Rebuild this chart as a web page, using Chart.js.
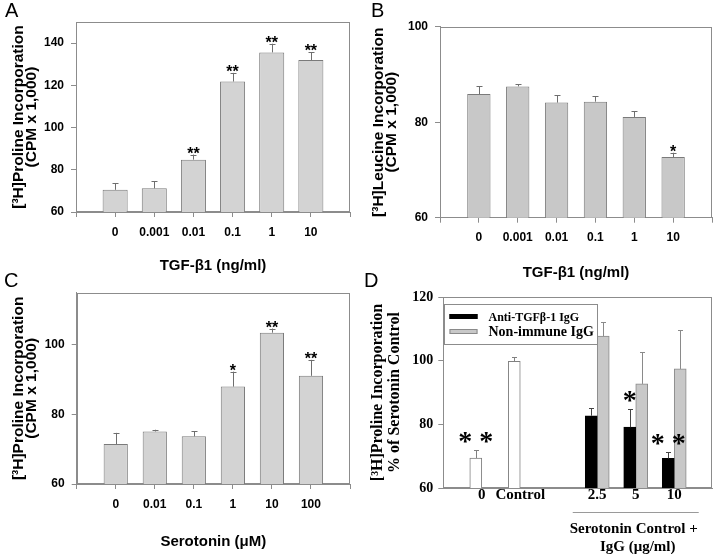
<!DOCTYPE html>
<html>
<head>
<meta charset="utf-8">
<script src="https://cdn.jsdelivr.net/npm/chart.js@4.4.0/dist/chart.umd.min.js"></script>
<style>
  body { margin: 0; background: #fff; }
  #wrap { position: relative; width: 720px; height: 554px; overflow: hidden; background: #fff; }
  #wrap canvas { position: absolute; }
  .tag { position: absolute; font: 20px "Liberation Sans", Arial, sans-serif; line-height: 20px; color: #000; }
</style>
</head>
<body>
<div id="wrap">
  <canvas id="chartA" width="360" height="277" style="left:0;top:0"></canvas>
  <canvas id="chartB" width="360" height="285" style="left:360px;top:0"></canvas>
  <canvas id="chartC" width="360" height="277" style="left:0;top:277px"></canvas>
  <canvas id="chartD" width="360" height="277" style="left:360px;top:277px"></canvas>
  <div class="tag" style="left:5px;top:0">A</div>
  <div class="tag" style="left:371px;top:0">B</div>
  <div class="tag" style="left:4px;top:270px">C</div>
  <div class="tag" style="left:364px;top:270px">D</div>
</div>
<script>
// A: proline incorporation vs TGF-b1
const tgfLabels = ["0", "0.001", "0.01", "0.1", "1", "10"];
const prolineTgf = [70.5, 71.2, 84.8, 121.8, 135.6, 132.0];
const prolineTgfErr = [3.2, 3.3, 2.4, 4.1, 4.1, 3.6];
const prolineTgfSig = ["", "", "**", "**", "**", "**"];

// B: leucine incorporation vs TGF-b1
const leucineTgf = [85.9, 87.5, 84.1, 84.3, 81.1, 72.7];
const leucineTgfErr = [1.6, 0.5, 1.5, 1.1, 1.2, 0.9];
const leucineTgfSig = ["", "", "", "", "", "*"];

// C: proline incorporation vs serotonin
const seroLabels = ["0", "0.01", "0.1", "1", "10", "100"];
const prolineSero = [71.5, 75.1, 73.7, 88.0, 103.5, 91.1];
const prolineSeroErr = [3.2, 0.5, 1.4, 4.3, 1.2, 4.6];
const prolineSeroSig = ["", "", "", "*", "**", "**"];

// D: % of serotonin control (blank slots at the ends and between the groups)
const igTicks = ["", "0", "Control", "", "2.5", "5", "10", ""];
const seroOnly = [null, 69.4, 99.8, null, null, null, null, null];
const seroOnlyErr = [null, 2.5, 1.3, null, null, null, null, null];
const seroOnlySig = ["", "* *", "", "", "", "", "", ""];
const antiTgf = [null, null, null, null, 82.7, 79.1, 69.3, null];
const antiTgfErr = [null, null, null, null, 2.3, 5.6, 2.0, null];
const antiTgfSig = ["", "", "", "", "", "*", "* *", ""];
const nonImmune = [null, null, null, null, 107.7, 92.7, 97.4, null];
const nonImmuneErr = [null, null, null, null, 4.4, 10.0, 12.1, null];
const groupTitle = ["Serotonin Control +", "IgG (\u03bcg/ml)"];

const FRAME = "#8c8c8c";
const sans = "'Liberation Sans', Arial, sans-serif";
const serif = "'Liberation Serif', 'Times New Roman', serif";

function padded(values) { return [null, ...values, null]; }

// box round the plot area
const frame = {
  id: "frame",
  beforeDatasetsDraw(chart) {
    const a = chart.chartArea;
    const ctx = chart.ctx;
    ctx.save();
    ctx.strokeStyle = FRAME;
    ctx.lineWidth = 1;
    ctx.strokeRect(Math.round(a.left) + 0.5, Math.round(a.top) + 0.5,
      Math.round(a.right - a.left) - 1, Math.round(a.bottom - a.top) - 1);
    ctx.restore();
  }
};

// upper error bars and significance stars
const markers = {
  id: "markers",
  afterDatasetsDraw(chart, args, opts) {
    const ctx = chart.ctx;
    const y = chart.scales.y;
    chart.data.datasets.forEach((ds, di) => {
      if (!ds.errors) return;
      chart.getDatasetMeta(di).data.forEach((bar, i) => {
        const v = ds.data[i];
        if (v == null) return;
        const top = y.getPixelForValue(v + ds.errors[i]);
        const x = Math.round(bar.x) + 0.5;
        ctx.save();
        ctx.strokeStyle = ds.errorColor || opts.color;
        ctx.lineWidth = 1;
        ctx.beginPath();
        ctx.moveTo(x, bar.y);
        ctx.lineTo(x, top);
        ctx.moveTo(x - opts.cap, Math.round(top) + 0.5);
        ctx.lineTo(x + opts.cap, Math.round(top) + 0.5);
        ctx.stroke();
        const s = ds.stars && ds.stars[i];
        if (s) {
          ctx.fillStyle = "#000";
          ctx.font = opts.font;
          ctx.textAlign = "center";
          ctx.textBaseline = "alphabetic";
          ctx.fillText(s, bar.x, top + opts.shift);
        }
        ctx.restore();
      });
    });
  }
};

// keep only the labelled steps (the axis runs past the last one)
const keepSteps = (s) => { s.ticks = s.ticks.filter((t) => t.value % 20 === 0); };

function dosePanel(id, p) {
  const font = (size) => ({ family: sans, size: size, weight: "bold" });
  new Chart(document.getElementById(id), {
    type: "bar",
    data: {
      labels: ["", ...p.labels, ""],
      datasets: [{
        data: padded(p.values),
        errors: padded(p.errors),
        stars: padded(p.stars),
        backgroundColor: p.fill,
        borderColor: "#7a7a7a",
        borderWidth: 1,
        categoryPercentage: 1,
        barPercentage: p.barPct
      }]
    },
    options: {
      responsive: false,
      animation: false,
      devicePixelRatio: 1,
      layout: { padding: { top: p.top, right: p.right, left: 0, bottom: 0 } },
      plugins: {
        legend: { display: false },
        tooltip: { enabled: false },
        markers: { color: "#6e6e6e", cap: 3, font: "bold 16px " + sans, shift: 4 }
      },
      scales: {
        x: {
          offset: false,
          grid: { offset: false, drawOnChartArea: false, tickLength: 5, color: FRAME },
          border: { color: FRAME },
          ticks: { autoSkip: false, maxRotation: 0, minRotation: 0, padding: 8, color: "#000", font: font(12) },
          title: { display: true, text: p.xTitle, color: "#000", font: font(15), padding: { top: 0, bottom: p.xTitlePad } },
          afterFit: (s) => { s.height = p.xHeight; }
        },
        y: {
          min: 60,
          max: p.max,
          bounds: "data",
          afterBuildTicks: keepSteps,
          grid: { drawOnChartArea: false, tickLength: 5, color: FRAME },
          border: { color: FRAME },
          ticks: { stepSize: 20, padding: 7, color: "#000", font: font(12) },
          title: {
            display: true,
            text: p.yTitle,
            color: "#000",
            font: { family: sans, size: 15.5, weight: "bold", lineHeight: 0.8 },
            padding: { top: 12.8, bottom: 0 }
          },
          afterFit: (s) => { s.width = p.yWidth; }
        }
      }
    },
    plugins: [frame, markers]
  });
}

dosePanel("chartA", {
  labels: tgfLabels, values: prolineTgf, errors: prolineTgfErr, stars: prolineTgfSig,
  fill: "#d3d3d3", barPct: 0.64, max: 150,
  top: 22, right: 10, xHeight: 65, yWidth: 76, xTitlePad: 2,
  xTitle: "TGF-\u03b21 (ng/ml)",
  yTitle: ["[\u00b3H]Proline Incorporation", "(CPM x 1,000)"]
});

dosePanel("chartB", {
  labels: tgfLabels, values: leucineTgf, errors: leucineTgfErr, stars: leucineTgfSig,
  fill: "#c8c8c8", barPct: 0.6, max: 100,
  top: 26.7, right: 7.3, xHeight: 67.3, yWidth: 80, xTitlePad: 3,
  xTitle: "TGF-\u03b21 (ng/ml)",
  yTitle: ["[\u00b3H]Leucine Incorporation", "(CPM x 1,000)"]
});

dosePanel("chartC", {
  labels: seroLabels, values: prolineSero, errors: prolineSeroErr, stars: prolineSeroSig,
  fill: "#d3d3d3", barPct: 0.62, max: 115,
  top: 15.7, right: 10, xHeight: 70, yWidth: 76.7, xTitlePad: 3,
  xTitle: "Serotonin (\u03bcM)",
  yTitle: ["[\u00b3H]Proline Incorporation", "(CPM x 1,000)"]
});

// legend box inside the plot and the label under the IgG doses
const igExtras = {
  id: "igExtras",
  afterDraw(chart) {
    const ctx = chart.ctx;
    const a = chart.chartArea;
    const x = chart.scales.x;
    ctx.save();
    // legend
    const lx = Math.round(a.left) + 1.5, ly = Math.round(a.top) + 7.5;
    ctx.fillStyle = "#fff";
    ctx.fillRect(lx, ly, 153, 40);
    ctx.strokeStyle = FRAME;
    ctx.strokeRect(lx, ly, 153, 40);
    const rows = [
      { ds: chart.data.datasets[1], dy: 12, size: 12 },
      { ds: chart.data.datasets[2], dy: 27, size: 14 }
    ];
    rows.forEach((r) => {
      ctx.fillStyle = r.ds.backgroundColor;
      ctx.fillRect(lx + 5, ly + r.dy - 2.5, 28, 5);
      ctx.strokeStyle = r.ds.borderColor;
      ctx.strokeRect(lx + 5.5, ly + r.dy - 2, 27, 4);
      ctx.fillStyle = "#000";
      ctx.font = "bold " + r.size + "px " + serif;
      ctx.textAlign = "left";
      ctx.textBaseline = "middle";
      ctx.fillText(r.ds.label, lx + 44, ly + r.dy + 1);
    });
    // group label under 2.5 / 5 / 10
    const cx = (x.getPixelForValue(4) + x.getPixelForValue(6)) / 2;
    const yb = Math.round(a.bottom);
    ctx.strokeStyle = "#9a9a9a";
    ctx.beginPath();
    ctx.moveTo(cx - 63, yb + 24.5);
    ctx.lineTo(cx + 63, yb + 24.5);
    ctx.stroke();
    ctx.fillStyle = "#000";
    ctx.font = "bold 15px " + serif;
    ctx.textAlign = "center";
    ctx.textBaseline = "middle";
    ctx.fillText(groupTitle[0], cx - 2, yb + 41);
    ctx.fillText(groupTitle[1], cx + 2, yb + 59);
    ctx.restore();
  }
};

new Chart(document.getElementById("chartD"), {
  type: "bar",
  data: {
    labels: igTicks,
    datasets: [
      {
        label: "Serotonin",
        data: seroOnly, errors: seroOnlyErr, stars: seroOnlySig,
        backgroundColor: "#ffffff", borderColor: "#808080", errorColor: "#808080",
        borderWidth: 1, stack: "left", barThickness: 12
      },
      {
        label: "Anti-TGF\u03b2-1 IgG",
        data: antiTgf, errors: antiTgfErr, stars: antiTgfSig,
        backgroundColor: "#000000", borderColor: "#000000", errorColor: "#444444",
        borderWidth: 1, stack: "left", barThickness: 12
      },
      {
        label: "Non-immune IgG",
        data: nonImmune, errors: nonImmuneErr,
        backgroundColor: "#c8c8c8", borderColor: "#8a8a8a", errorColor: "#8a8a8a",
        borderWidth: 1, stack: "right", barThickness: 12
      }
    ]
  },
  options: {
    responsive: false,
    animation: false,
    devicePixelRatio: 1,
    layout: { padding: { top: 20, right: 7.3, left: 0, bottom: 0 } },
    plugins: {
      legend: { display: false },
      tooltip: { enabled: false },
      markers: { color: "#808080", cap: 2.5, font: "bold 28px " + serif, shift: 0 }
    },
    scales: {
      x: {
        offset: false,
        grid: { display: false, drawTicks: false, offset: false },
        border: { color: FRAME },
        ticks: {
          autoSkip: false, maxRotation: 0, minRotation: 0, padding: 0, color: "#000",
          font: { family: serif, size: 15, weight: "bold", lineHeight: 1 }
        },
        afterFit: (s) => { s.height = 66; }
      },
      y: {
        min: 60,
        max: 120,
        stacked: false,
        grid: { drawOnChartArea: false, tickLength: 5, color: FRAME },
        border: { color: FRAME },
        ticks: { stepSize: 20, padding: 5, color: "#000", font: { family: serif, size: 14, weight: "bold" } },
        title: {
          display: true,
          text: ["[\u00b3H]Proline Incorporation", "% of Serotonin Control"],
          color: "#000",
          font: { family: serif, size: 16, weight: "bold", lineHeight: 1.05 },
          padding: { top: 9.6, bottom: 0 }
        },
        afterFit: (s) => { s.width = 83.3; }
      }
    }
  },
  plugins: [frame, markers, igExtras]
});
</script>
</body>
</html>
